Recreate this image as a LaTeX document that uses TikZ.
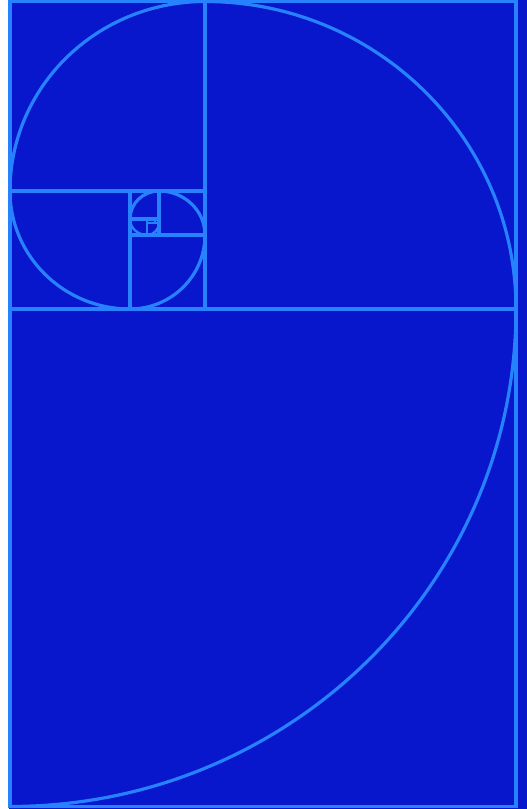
\documentclass[tikz,border=0pt]{standalone}
\definecolor{bgblue}{RGB}{8,22,204}
\definecolor{lineblue}{RGB}{38,130,255}
\begin{document}
\begin{tikzpicture}[x=1pt,y=1pt,
  gline/.style={draw=lineblue,line width=3.2pt},
  garc/.style={draw=lineblue,line width=3.2pt}]
\useasboundingbox (0,0) rectangle (527,809);
\fill[bgblue] (0,0) rectangle (527,809);
\fill[white] (0,0) rectangle (9,809);
% frame and subdivisions
\draw[gline] (10,2.5) rectangle (516,807.5);
\draw[gline] (10,500) -- (516,500);
\draw[gline] (205,500) -- (205,807.5);
\draw[gline] (10,618) -- (205,618);
\draw[gline] (130,500) -- (130,618);
\draw[gline] (130,574) -- (205,574);
\draw[gline] (159,574) -- (159,618);
\draw[gline] (130,590) -- (159,590);
\draw[gline,line width=2.4pt] (147,574) -- (147,590);
\draw[gline,line width=2.4pt] (147,586) -- (159,586);
\draw[gline,line width=1.6pt] (155,586) -- (155,590);
% spiral
\draw[garc] (10,2.5) arc[start angle=-90,end angle=0,x radius=506,y radius=497.5];
\draw[garc] (516,500) arc[start angle=0,end angle=90,x radius=311,y radius=307.5];
\draw[garc] (205,807.5) arc[start angle=90,end angle=180,x radius=195,y radius=189.5];
\draw[garc] (10,618) arc[start angle=180,end angle=270,x radius=120,y radius=118];
\draw[garc] (130,500) arc[start angle=270,end angle=360,x radius=75,y radius=74];
\draw[garc] (205,574) arc[start angle=0,end angle=90,x radius=46,y radius=44];
\draw[garc] (159,618) arc[start angle=90,end angle=180,x radius=29,y radius=28];
\draw[garc,line width=2.4pt] (130,590) arc[start angle=180,end angle=270,x radius=17,y radius=16];
\draw[garc,line width=2.4pt] (147,574) arc[start angle=270,end angle=360,x radius=12,y radius=12];
\draw[garc,line width=1.6pt] (159,586) arc[start angle=0,end angle=90,x radius=4,y radius=4];
\end{tikzpicture}
\end{document}
